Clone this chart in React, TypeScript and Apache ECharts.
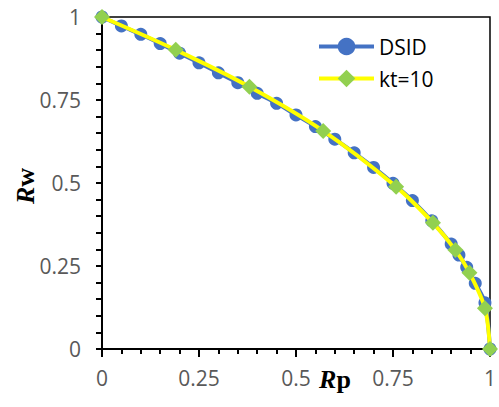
import React, { useEffect, useRef } from "react";
import * as echarts from "echarts";

const dsidX = [0, 0.05, 0.1, 0.15, 0.2, 0.25, 0.3, 0.35, 0.4, 0.45, 0.5, 0.55, 0.6, 0.65, 0.7, 0.75, 0.8, 0.85, 0.9, 0.92, 0.94, 0.962, 0.987, 1];
const dsidY = [1, 0.973, 0.948, 0.92, 0.891, 0.862, 0.832, 0.802, 0.77, 0.74, 0.705, 0.67, 0.632, 0.591, 0.547, 0.499, 0.447, 0.386, 0.316, 0.283, 0.246, 0.198, 0.139, 0];
const ktX = [0, 0.19, 0.38, 0.57, 0.758, 0.853, 0.911, 0.947, 0.987, 1];
const ktY = [1, 0.901, 0.79, 0.657, 0.489, 0.38, 0.298, 0.23, 0.123, 0];
const seriesNames = ["DSID", "kt=10"];

export default function App() {
  const ref = useRef<HTMLDivElement>(null);
  useEffect(() => {
    if (!ref.current) return;
    const chart = echarts.init(ref.current, null, { renderer: "svg" });
    const labelFont = { fontFamily: "Open Sans", fontSize: 21, color: "#595959" };
    chart.setOption({
      animation: false,
      grid: {
        left: 102,
        right: 3,
        top: 17,
        bottom: 58,
        show: true,
        borderColor: "#000",
        borderWidth: 1.5,
        backgroundColor: "transparent",
      },
      legend: {
        orient: "vertical",
        left: 312,
        top: 31,
        itemWidth: 55,
        itemHeight: 22,
        itemGap: 11,
        lineStyle: { width: 4 },
        textStyle: { fontFamily: "Open Sans", fontSize: 21, color: "#000" },
        data: seriesNames,
      },
      xAxis: {
        type: "value",
        min: 0,
        max: 1,
        interval: 0.25,
        axisLine: { show: true, lineStyle: { color: "#000", width: 2 } },
        axisTick: { show: true, length: 8, lineStyle: { color: "#000", width: 2 } },
        minorTick: { show: true, splitNumber: 5, length: 5, lineStyle: { color: "#000", width: 2 } },
        splitLine: { show: false },
        axisLabel: { ...labelFont, margin: 18 },
      },
      yAxis: {
        type: "value",
        min: 0,
        max: 1,
        interval: 0.25,
        axisLine: { show: true, lineStyle: { color: "#000", width: 2 } },
        axisTick: { show: true, length: 6, lineStyle: { color: "#000", width: 2 } },
        minorTick: { show: true, splitNumber: 5, length: 6, lineStyle: { color: "#000", width: 2 } },
        splitLine: { show: false },
        axisLabel: { ...labelFont, margin: 21 },
      },
      graphic: [
        {
          type: "text",
          x: 335,
          y: 379,
          style: {
            text: "{r|R}{p|p}",
            align: "center",
            verticalAlign: "middle",
            rich: {
              r: { fontFamily: "Liberation Serif", fontWeight: "bold", fontStyle: "italic", fontSize: 26, fill: "#000" },
              p: { fontFamily: "Liberation Serif", fontWeight: "bold", fontSize: 26, fill: "#000" },
            },
          },
        },
        {
          type: "text",
          x: 25,
          y: 186,
          rotation: Math.PI / 2,
          style: {
            text: "{r|R}{p|w}",
            align: "center",
            verticalAlign: "middle",
            rich: {
              r: { fontFamily: "Liberation Serif", fontWeight: "bold", fontStyle: "italic", fontSize: 26, fill: "#000" },
              p: { fontFamily: "Liberation Serif", fontWeight: "bold", fontSize: 26, fill: "#000" },
            },
          },
        },
      ],
      series: [
        {
          name: seriesNames[0],
          type: "line",
          data: dsidX.map((x, i) => [x, dsidY[i]]),
          smooth: 0.3,
          symbol: "circle",
          symbolSize: 13,
          showAllSymbol: true,
          lineStyle: { color: "#4472C4", width: 4 },
          itemStyle: { color: "#4472C4" },
          z: 2,
        },
        {
          name: seriesNames[1],
          type: "line",
          data: ktX.map((x, i) => [x, ktY[i]]),
          smooth: 0.3,
          symbol: "diamond",
          symbolSize: 16,
          showAllSymbol: true,
          lineStyle: { color: "#FFFF00", width: 4 },
          itemStyle: { color: "#92D050" },
          z: 3,
        },
      ],
    });
    return () => chart.dispose();
  }, []);
  return (
    <div
      ref={ref}
      style={{ position: "fixed", left: 0, top: 0, width: 499, height: 407, background: "#fff" }}
    />
  );
}
